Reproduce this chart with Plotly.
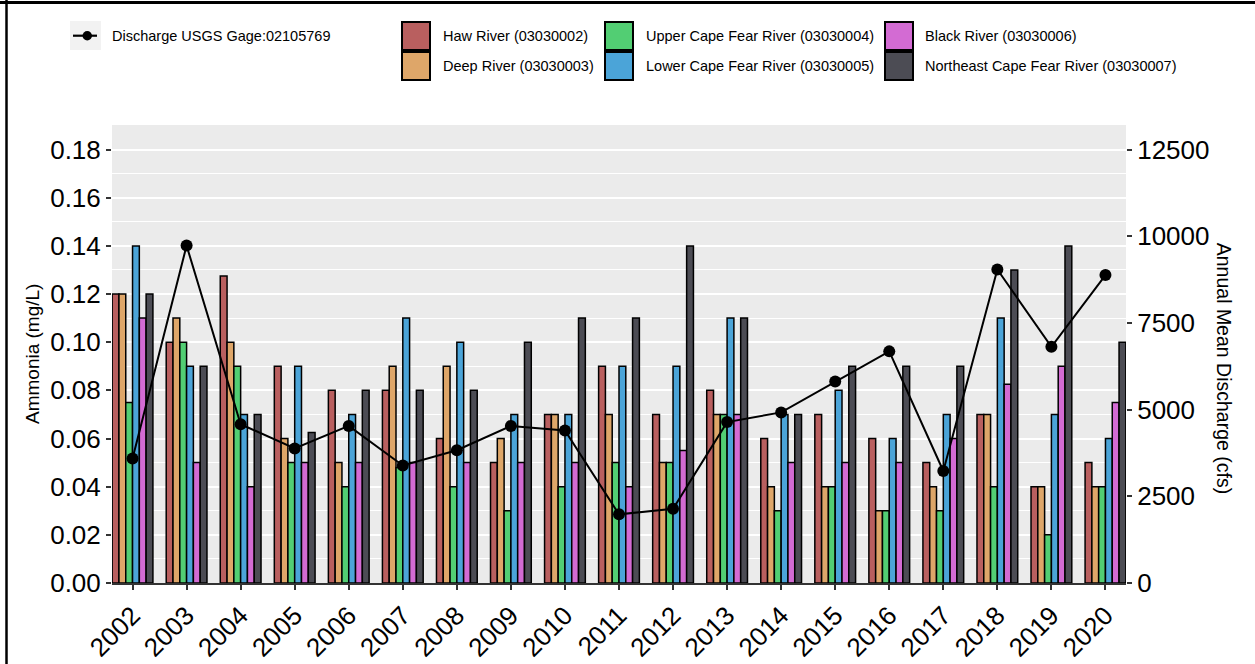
import plotly.graph_objects as go

years = ["2002", "2003", "2004", "2005", "2006", "2007", "2008", "2009", "2010", "2011",
         "2012", "2013", "2014", "2015", "2016", "2017", "2018", "2019", "2020"]

haw = [0.12, 0.10, 0.1275, 0.09, 0.08, 0.08, 0.06, 0.05, 0.07, 0.09,
       0.07, 0.08, 0.06, 0.07, 0.06, 0.05, 0.07, 0.04, 0.05]
deep = [0.12, 0.11, 0.10, 0.06, 0.05, 0.09, 0.09, 0.06, 0.07, 0.07,
        0.05, 0.07, 0.04, 0.04, 0.03, 0.04, 0.07, 0.04, 0.04]
upper_cf = [0.075, 0.10, 0.09, 0.05, 0.04, 0.048, 0.04, 0.03, 0.04, 0.05,
            0.05, 0.07, 0.03, 0.04, 0.03, 0.03, 0.04, 0.02, 0.04]
lower_cf = [0.14, 0.09, 0.07, 0.09, 0.07, 0.11, 0.10, 0.07, 0.07, 0.09,
            0.09, 0.11, 0.07, 0.08, 0.06, 0.07, 0.11, 0.07, 0.06]
black_r = [0.11, 0.05, 0.04, 0.05, 0.05, 0.05, 0.05, 0.05, 0.05, 0.04,
           0.055, 0.07, 0.05, 0.05, 0.05, 0.06, 0.0825, 0.09, 0.075]
ne_cf = [0.12, 0.09, 0.07, 0.0625, 0.08, 0.08, 0.08, 0.10, 0.11, 0.11,
         0.14, 0.11, 0.07, 0.09, 0.09, 0.09, 0.13, 0.14, 0.10]
discharge = [3590, 9730, 4580, 3880, 4530, 3390, 3830, 4530, 4400, 1980,
             2140, 4640, 4920, 5810, 6680, 3230, 9040, 6810, 8880]

series_names = ["Haw River (03030002)", "Deep River (03030003)", "Upper Cape Fear River (03030004)",
                "Lower Cape Fear River (03030005)", "Black River (03030006)",
                "Northeast Cape Fear River (03030007)"]
series_vals = [haw, deep, upper_cf, lower_cf, black_r, ne_cf]
colors = ["#B95F5F", "#DEA669", "#52CE73", "#4BA4D8", "#D36BD3", "#4C4C54"]
line_name = "Discharge USGS Gage:02105769"

left_ticks = [0.00, 0.02, 0.04, 0.06, 0.08, 0.10, 0.12, 0.14, 0.16, 0.18]
right_ticks = [0, 2500, 5000, 7500, 10000, 12500]

FONT = "Liberation Sans, Arial, sans-serif"
W, H = 1255, 664
L, R, T, B = 112, 129, 125, 81
PW, PH = W - L - R, H - T - B

def px(x):
    return (x - L) / PW

def py(y):
    return (H - B - y) / PH

fig = go.Figure()
for name, vals, col in zip(series_names, series_vals, colors):
    fig.add_trace(go.Bar(x=years, y=vals, name=name, marker_color=col,
                         marker_line_color="black", marker_line_width=1.5,
                         showlegend=False))

fig.add_trace(go.Scatter(x=years, y=discharge, name=line_name, yaxis="y2",
                         mode="lines+markers", line=dict(color="black", width=2),
                         marker=dict(color="black", size=12), showlegend=False))

ytop = 0.1902
fig.update_layout(
    width=W, height=H,
    margin=dict(l=L, r=R, t=T, b=B, autoexpand=False),
    paper_bgcolor="white", plot_bgcolor="#EBEBEB",
    barmode="group", bargap=0.246, bargroupgap=0,
    font=dict(family=FONT, color="black"),
    xaxis=dict(type="category", range=[-0.38, 18.38], showgrid=False,
               showline=True, linecolor="#333333", linewidth=2,
               ticks="outside", ticklen=5, tickwidth=2, tickcolor="#333333",
               tickangle=-45, tickfont=dict(size=26, color="black")),
    yaxis=dict(range=[0, ytop], tickvals=left_ticks,
               ticktext=["%.2f" % v for v in left_ticks],
               showgrid=True, gridcolor="white", gridwidth=1.6, zeroline=False,
               ticks="outside", ticklen=5, tickwidth=2, tickcolor="#333333",
               tickfont=dict(size=26, color="black"),
               minor=dict(dtick=0.01, tick0=0, showgrid=True, gridcolor="white",
                          gridwidth=0.7, ticks="")),
    yaxis2=dict(range=[0, ytop * 12500 / 0.18], tickvals=right_ticks,
                ticktext=[str(v) for v in right_ticks],
                overlaying="y", side="right", showgrid=False, zeroline=False,
                ticks="outside", ticklen=5, tickwidth=2, tickcolor="#333333",
                tickfont=dict(size=26, color="black")),
)

shapes = []
annotations = []

# axis titles
annotations.append(dict(text="Ammonia (mg/L)", x=px(32), y=0.5, xref="paper", yref="paper",
                        textangle=-90, showarrow=False, font=dict(size=19, color="black"),
                        xanchor="center", yanchor="middle"))
annotations.append(dict(text="Annual Mean Discharge (cfs)", x=px(1224), y=0.47, xref="paper",
                        yref="paper", textangle=90, showarrow=False,
                        font=dict(size=19.5, color="black"), xanchor="center", yanchor="middle"))

# legend: discharge key
shapes.append(dict(type="rect", xref="paper", yref="paper", x0=px(70), x1=px(101),
                   y0=py(50), y1=py(21), fillcolor="#F2F2F2", line=dict(width=0), layer="above"))
shapes.append(dict(type="line", xref="paper", yref="paper", x0=px(73), x1=px(97),
                   y0=py(35.7), y1=py(35.7), line=dict(color="black", width=2.2), layer="above"))
shapes.append(dict(type="circle", xref="paper", yref="paper", x0=px(82.5), x1=px(92),
                   y0=py(40.5), y1=py(31), fillcolor="black", line=dict(color="black", width=0),
                   layer="above"))
annotations.append(dict(text=line_name, x=px(110), y=py(35.7), xref="paper", yref="paper",
                        showarrow=False, xanchor="left", yanchor="middle",
                        font=dict(size=14.5, color="black")))

# legend: fill keys, 2 rows x 3 columns (column-wise)
key_x = [402, 605, 885]
text_x = [441, 644, 923]
rows_y = [(22, 50), (52, 80)]
for i, (name, col) in enumerate(zip(series_names, colors)):
    c, r = divmod(i, 2)
    y0, y1 = rows_y[r]
    shapes.append(dict(type="rect", xref="paper", yref="paper", x0=px(key_x[c]),
                       x1=px(key_x[c] + 28), y0=py(y1), y1=py(y0), fillcolor=col,
                       line=dict(color="black", width=2), layer="above"))
    annotations.append(dict(text=name, x=px(text_x[c]), y=py((y0 + y1) / 2), xref="paper",
                            yref="paper", showarrow=False, xanchor="left", yanchor="middle",
                            font=dict(size=14.5, color="black")))

# outer frame (top and left)
shapes.append(dict(type="line", xref="paper", yref="paper", x0=px(0), x1=px(W),
                   y0=py(2.5), y1=py(2.5), line=dict(color="black", width=3), layer="above"))
shapes.append(dict(type="line", xref="paper", yref="paper", x0=px(6.5), x1=px(6.5),
                   y0=py(0), y1=py(H), line=dict(color="black", width=2.5), layer="above"))

fig.update_layout(shapes=shapes, annotations=annotations)
fig.write_html("out.html", config={"displayModeBar": False},
               post_script="document.body.style.margin='0';document.body.style.overflow='hidden';")
